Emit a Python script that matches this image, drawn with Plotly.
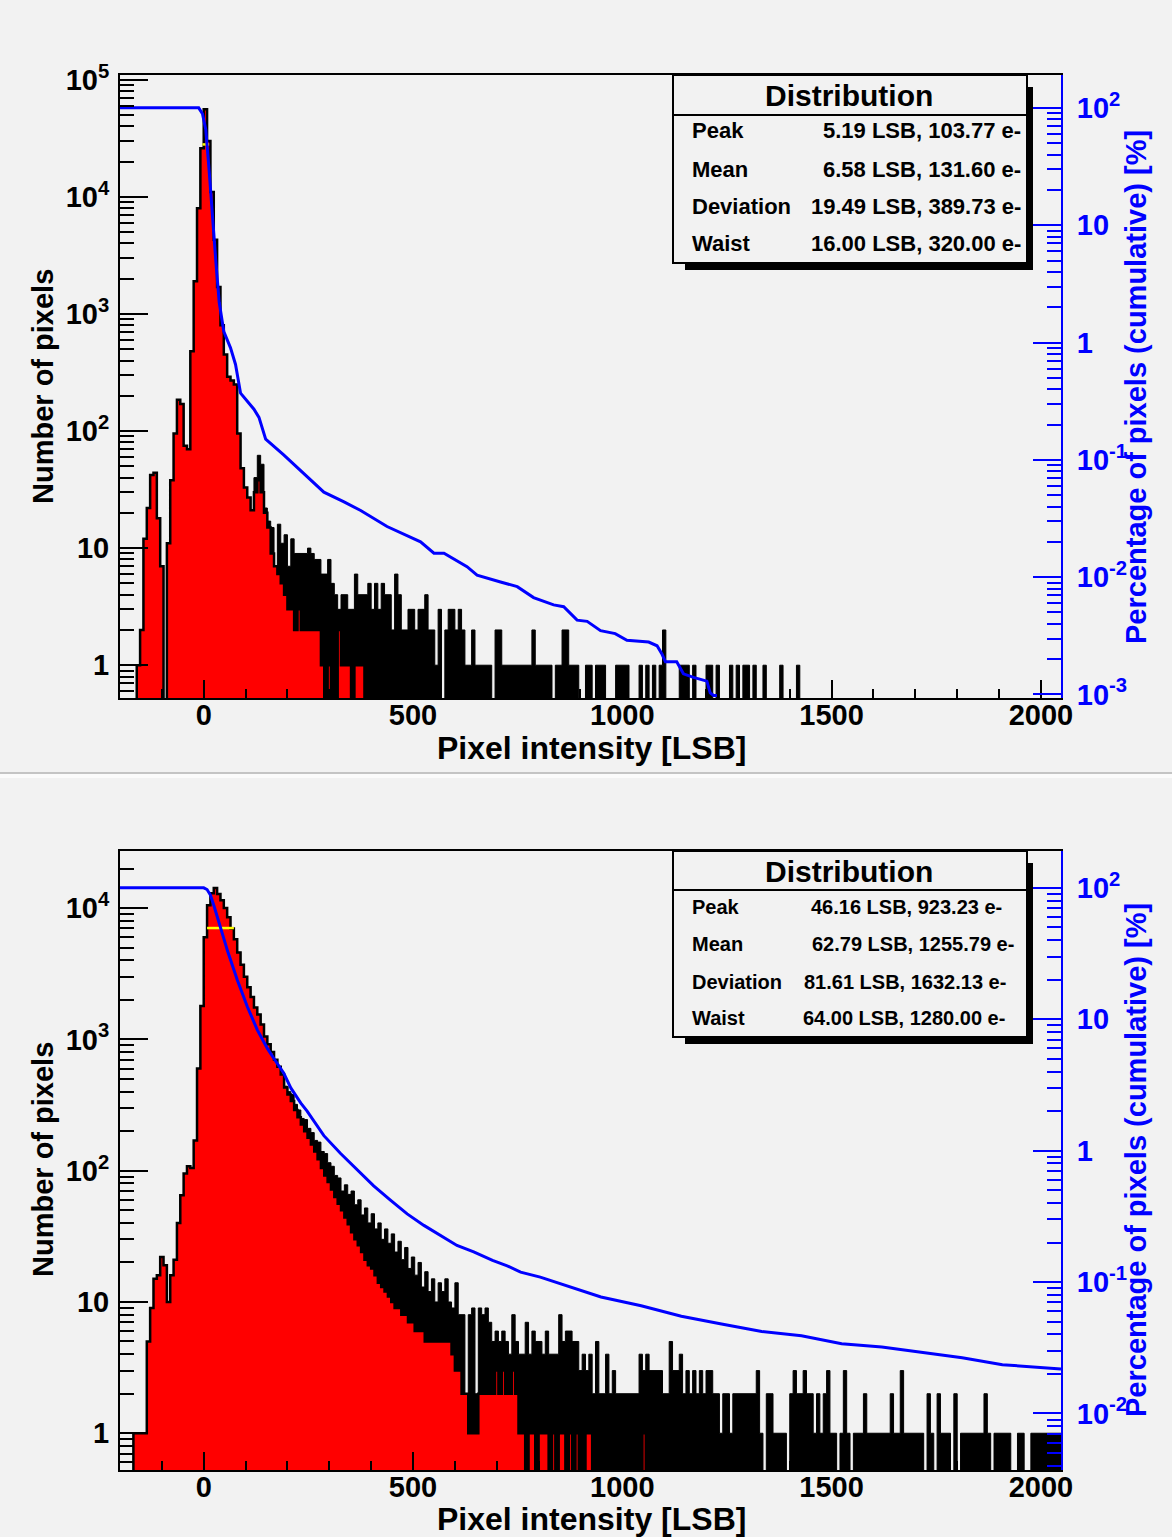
import plotly.graph_objects as go

W, H = 1172, 1537
BG = "#f2f2f2"
FONT = "Liberation Sans, Arial, Helvetica, sans-serif"

# ---------------- data ----------------
bin_start = -200          # LSB, lower edge of first bin
bin_width = 8             # LSB per bin
x_range = [-200, 2048]

# Top panel: total distribution (black) and red distribution, counts per bin
top_black = [
    0, 0, 0, 0, 0, 1, 2, 12, 22, 42,
    44, 18, 7, 0, 11, 38, 95, 185, 170, 75,
    70, 480, 1900, 8000, 26000, 56000, 30000, 11000, 4300, 1700,
    800, 450, 290, 270, 250, 95, 48, 33, 27, 21,
    40, 62, 52, 22, 17, 15, 7, 16, 11, 13,
    7, 12, 9, 9, 9, 9, 10, 9, 8, 8,
    6, 6, 8, 5, 4, 3, 4, 4, 3, 3,
    6, 4, 4, 4, 5, 3, 5, 3, 5, 4,
    4, 2, 6, 4, 2, 2, 3, 3, 2, 3,
    3, 4, 2, 2, 1, 3, 0, 2, 3, 3,
    2, 3, 2, 1, 1, 2, 1, 1, 1, 1,
    1, 0, 2, 2, 1, 1, 1, 1, 1, 1,
    1, 1, 1, 2, 1, 1, 1, 1, 1, 0,
    1, 1, 2, 2, 1, 1, 1, 0, 0, 1,
    1, 0, 1, 1, 1, 0, 0, 0, 1, 1,
    1, 1, 0, 0, 0, 1, 0, 1, 0, 1,
    0, 1, 2, 0, 0, 0, 0, 1, 1, 1,
    0, 1, 0, 0, 0, 1, 1, 0, 1, 0,
    0, 0, 1, 0, 1, 0, 1, 1, 0, 1,
    0, 0, 1, 0, 0, 0, 0, 1, 0, 0,
    0, 0, 1,
]
top_red = [
    0, 0, 0, 0, 0, 1, 2, 12, 22, 42,
    44, 18, 7, 0, 11, 38, 95, 185, 170, 75,
    70, 480, 1900, 8000, 26000, 56000, 30000, 11000, 4300, 1700,
    800, 450, 290, 270, 250, 95, 48, 33, 27, 21,
    30, 38, 30, 20, 15, 9, 7, 6, 5, 4,
    3, 3, 2, 3, 2, 2, 2, 2, 2, 2,
    1, 0, 1, 0, 0, 2, 1, 1, 1, 0,
    1, 1, 1, 0,
]

# Bottom panel
bot_black = [
    0, 0, 0, 0, 1, 1, 1, 1, 5, 9,
    15, 16, 22, 19, 10, 16, 21, 40, 65, 95,
    108, 105, 170, 600, 1800, 6000, 10500, 13000, 14200, 12800,
    11500, 10000, 8500, 7000, 5800, 4600, 3700, 3000, 2500, 2100,
    1750, 1550, 1300, 1050, 920, 800, 700, 620, 540, 440,
    400, 380, 320, 290, 250, 245, 210, 195, 170, 165,
    140, 135, 115, 108, 92, 88, 70, 78, 66, 70,
    55, 60, 46, 52, 40, 47, 36, 40, 30, 36,
    28, 33, 24, 29, 21, 26, 18, 22, 16, 20,
    13, 17, 12, 15, 10, 14, 12, 15, 10, 9,
    14, 8, 8, 2, 8, 9, 2, 9, 8, 9,
    7, 5, 6, 5, 6, 5, 4, 8, 5, 4,
    4, 7, 4, 6, 5, 5, 4, 6, 4, 4,
    4, 8, 5, 6, 6, 5, 5, 3, 4, 3,
    4, 2, 5, 2, 2, 4, 2, 3, 2, 2,
    2, 2, 2, 2, 2, 4, 3, 4, 3, 3,
    3, 3, 2, 2, 5, 3, 3, 4, 2, 3,
    2, 3, 2, 3, 2, 3, 3, 2, 2, 1,
    2, 2, 1, 2, 2, 2, 2, 2, 2, 2,
    3, 1, 0, 2, 2, 1, 1, 1, 1, 0,
    2, 3, 2, 2, 3, 2, 2, 1, 2, 1,
    2, 3, 1, 1, 0, 1, 3, 1, 0, 1,
    1, 1, 2, 1, 1, 1, 1, 1, 1, 1,
    2, 1, 1, 3, 1, 1, 1, 1, 1, 1,
    0, 2, 1, 0, 2, 1, 1, 1, 0, 2,
    0, 1, 1, 1, 1, 1, 1, 1, 2, 1,
    0, 1, 1, 1, 1, 1, 0, 0, 1, 1,
    0, 0, 1, 1, 1, 1, 1, 1, 1, 1,
    1,
]
bot_red = [
    0, 0, 0, 0, 1, 1, 1, 1, 5, 9,
    15, 16, 22, 19, 10, 16, 21, 40, 65, 95,
    108, 105, 170, 600, 1800, 6000, 10500, 13000, 14200, 12800,
    11500, 10000, 8500, 7000, 5800, 4600, 3700, 3000, 2500, 2100,
    1750, 1550, 1300, 1050, 920, 800, 700, 620, 540, 430,
    380, 340, 290, 255, 225, 200, 178, 158, 140, 122,
    105, 92, 82, 72, 63, 56, 50, 44, 39, 34,
    30, 27, 24, 21, 19, 18, 16, 14, 13, 12,
    11, 10, 9, 9, 8, 8, 7, 7, 6, 6,
    6, 5, 5, 5, 5, 5, 5, 5, 5, 4,
    3, 3, 2, 2, 1, 1, 1, 2, 2, 2,
    2, 2, 3, 2, 3, 2, 2, 3, 2, 1,
    1, 0, 1, 1, 0, 1, 1, 1, 0, 1,
    0, 1, 1, 0, 1, 0, 1, 0, 0, 1,
    1, 0, 0, 0, 0, 0, 0, 0, 0, 0,
    0, 0, 0, 0, 0, 0, 1,
]

# Cumulative percentage curves (blue, right axis)
top_cum_x = [-200, -12, -3, 5, 13, 21, 29, 37, 48, 64, 76, 88, 120, 132, 148,
             191, 239, 287, 334, 375, 438, 470, 518, 550, 574, 629, 653, 709,
             749, 788, 836, 860, 892, 916, 948, 983, 1011, 1063, 1083, 1095,
             1103, 1130, 1146, 1170, 1202, 1210, 1218, 1226]
top_cum_pct = [100, 100, 89, 65, 29, 11, 4.9, 2.2, 1.24, 0.9, 0.65, 0.37, 0.27,
               0.23, 0.15, 0.11, 0.076, 0.053, 0.044, 0.037, 0.027, 0.024,
               0.020, 0.016, 0.016, 0.0123, 0.0104, 0.0091, 0.0083, 0.0067,
               0.0058, 0.0056, 0.0043, 0.0042, 0.0035, 0.0033, 0.0029, 0.0028,
               0.0026, 0.0022, 0.0019, 0.0019, 0.0015, 0.0014, 0.0013, 0.00103,
               0.00098, 0.00098]
bot_cum_x = [-200, 0, 8, 16, 25, 41, 57, 80, 104, 128, 152, 168, 191, 208, 232,
             247, 271, 287, 327, 367, 406, 446, 486, 526, 566, 605, 645, 690,
             725, 757, 804, 853, 949, 1045, 1141, 1237, 1333, 1428, 1524, 1620,
             1716, 1812, 1908, 2048]
bot_cum_pct = [100, 100, 97, 88, 72, 49, 33, 20, 12.5, 8.3, 6.0, 5.0, 3.9, 3.0,
               2.3, 2.0, 1.56, 1.3, 0.95, 0.71, 0.54, 0.42, 0.33, 0.27, 0.225,
               0.19, 0.17, 0.146, 0.133, 0.119, 0.109, 0.097, 0.077, 0.066,
               0.055, 0.048, 0.042, 0.039, 0.034, 0.032, 0.029, 0.0266, 0.0235,
               0.0218]

# Waist (FWHM) markers
top_waist_x = [-3, 13]
top_waist_y = 28000
bot_waist_x = [8, 72]
bot_waist_y = 7050

# Stats box text
box_title = "Distribution"
stat_labels = ["Peak", "Mean", "Deviation", "Waist"]
top_stat_values = ["5.19 LSB, 103.77 e-", "6.58 LSB, 131.60 e-",
                   "19.49 LSB, 389.73 e-", "16.00 LSB, 320.00 e-"]
bot_stat_values = ["46.16 LSB, 923.23 e-", "62.79 LSB, 1255.79 e-",
                   "81.61 LSB, 1632.13 e-", "64.00 LSB, 1280.00 e-"]

# Axis ticks
x_tick_vals = [0, 500, 1000, 1500, 2000]
x_tick_text = ["0", "500", "1000", "1500", "2000"]
top_left_vals = [1, 10, 100, 1000, 10000, 100000]
top_left_text = ["1", "10", "10<sup>2</sup>", "10<sup>3</sup>", "10<sup>4</sup>", "10<sup>5</sup>"]
bot_left_vals = [1, 10, 100, 1000, 10000]
bot_left_text = ["1", "10", "10<sup>2</sup>", "10<sup>3</sup>", "10<sup>4</sup>"]
top_right_vals = [0.001, 0.01, 0.1, 1, 10, 100]
top_right_text = ["10<sup>-3</sup>", "10<sup>-2</sup>", "10<sup>-1</sup>", "1", "10", "10<sup>2</sup>"]
bot_right_vals = [0.01, 0.1, 1, 10, 100]
bot_right_text = ["10<sup>-2</sup>", "10<sup>-1</sup>", "1", "10", "10<sup>2</sup>"]

x_title = "Pixel intensity [LSB]"
y_title = "Number of pixels"
y2_title = "Percentage of pixels (cumulative) [%]"

# ---------------- helpers ----------------
FLOOR = 0.05  # drawing level for empty bins (below the visible axis range)


def hist_path(counts):
    xs = [bin_start]
    ys = [FLOOR]
    for i, c in enumerate(counts):
        v = c if c > 0 else FLOOR
        x0 = bin_start + i * bin_width
        xs += [x0, x0 + bin_width]
        ys += [v, v]
    xs.append(bin_start + len(counts) * bin_width)
    ys.append(FLOOR)
    return xs, ys


def minor_log(e_lo, e_hi):
    return [m * 10.0 ** e for e in range(e_lo, e_hi + 1) for m in range(2, 10)]


def px_x(p):
    return p / W


def px_y(p):
    return 1 - p / H


X_DOM = [px_x(120), px_x(1061)]
TOP_DOM = [px_y(698), px_y(75)]
BOT_DOM = [px_y(1470), px_y(851)]

fig = go.Figure()


def add_panel(black, red, waist_x, waist_y, cum_x, cum_pct, xa, ya, ya2):
    bx, by = hist_path(black)
    fig.add_trace(go.Scatter(x=bx, y=by, mode="lines", fill="toself",
                             fillcolor="black", line=dict(color="black", width=1),
                             xaxis=xa, yaxis=ya, hoverinfo="skip", showlegend=False))
    rx, ry = hist_path(red)
    fig.add_trace(go.Scatter(x=rx, y=ry, mode="lines", fill="toself",
                             fillcolor="#ff0000", line=dict(color="black", width=2.5),
                             xaxis=xa, yaxis=ya, hoverinfo="skip", showlegend=False))
    fig.add_trace(go.Scatter(x=waist_x, y=[waist_y, waist_y], mode="lines",
                             line=dict(color="#ffff00", width=2.5),
                             xaxis=xa, yaxis=ya, hoverinfo="skip", showlegend=False))
    fig.add_trace(go.Scatter(x=cum_x, y=cum_pct, mode="lines",
                             line=dict(color="#0000ff", width=3),
                             xaxis=xa, yaxis=ya2, hoverinfo="skip", showlegend=False))


add_panel(top_black, top_red, top_waist_x, top_waist_y, top_cum_x, top_cum_pct, "x", "y", "y2")
add_panel(bot_black, bot_red, bot_waist_x, bot_waist_y, bot_cum_x, bot_cum_pct, "x2", "y3", "y4")

tick_font = dict(family=FONT, size=29, color="black", weight="bold")
ytick_font = dict(family=FONT, size=29, color="black", weight="bold")
rtick_font = dict(family=FONT, size=29, color="#0000ff", weight="bold")


def xaxis_cfg(anchor):
    return dict(domain=X_DOM, range=x_range, anchor=anchor, showgrid=False, zeroline=False,
                automargin=False,
                showline=True, linecolor="black", linewidth=2, mirror=True,
                ticks="inside", ticklen=18, tickwidth=1.5, tickcolor="black",
                tickmode="array", tickvals=x_tick_vals, ticktext=x_tick_text,
                tickfont=tick_font, ticklabelstandoff=-10,
                minor=dict(tickmode="array", tickvals=list(range(-100, 2001, 100)),
                           ticks="inside", ticklen=9, tickwidth=1.5, tickcolor="black"))


def yleft_cfg(domain, rng, vals, text, anchor, e_lo, e_hi):
    return dict(domain=domain, type="log", range=rng, anchor=anchor, showgrid=False,
                zeroline=False, showline=True, linecolor="black", linewidth=2,
                automargin=False,
                ticks="inside", ticklen=28, tickwidth=1.5, tickcolor="black",
                tickmode="array", tickvals=vals, ticktext=text, tickfont=ytick_font,
                ticklabelstandoff=3,
                minor=dict(tickmode="array", tickvals=minor_log(e_lo, e_hi),
                           ticks="inside", ticklen=14, tickwidth=1.5, tickcolor="black"))


def yright_cfg(over, rng, vals, text, anchor, e_lo, e_hi):
    return dict(overlaying=over, side="right", type="log", range=rng, anchor=anchor,
                showgrid=False, zeroline=False, showline=True, linecolor="#0000ff",
                automargin=False,
                linewidth=2, ticks="inside", ticklen=28, tickwidth=1.5, tickcolor="#0000ff",
                tickmode="array", tickvals=vals, ticktext=text, tickfont=rtick_font,
                ticklabelstandoff=8,
                minor=dict(tickmode="array", tickvals=minor_log(e_lo, e_hi),
                           ticks="inside", ticklen=14, tickwidth=1.5, tickcolor="#0000ff"))


shapes = []
annotations = []


def add_box(y_top, y_sep, y_bot, rows_y, values, value_right, val_size):
    # shadow
    shapes.append(dict(type="rect", xref="paper", yref="paper",
                       x0=px_x(685), x1=px_x(1033), y0=px_y(y_bot + 7), y1=px_y(y_top + 12),
                       fillcolor="black", line=dict(width=0), layer="above"))
    shapes.append(dict(type="rect", xref="paper", yref="paper",
                       x0=px_x(673), x1=px_x(1027), y0=px_y(y_bot), y1=px_y(y_top),
                       fillcolor=BG, line=dict(color="black", width=2), layer="above"))
    shapes.append(dict(type="line", xref="paper", yref="paper",
                       x0=px_x(673), x1=px_x(1027), y0=px_y(y_sep), y1=px_y(y_sep),
                       line=dict(color="black", width=2), layer="above"))
    annotations.append(dict(text=box_title, xref="paper", yref="paper",
                            x=px_x(849), y=px_y((y_top + y_sep) / 2 + 1), xanchor="center",
                            yanchor="middle", showarrow=False,
                            font=dict(family=FONT, size=30, color="black", weight="bold")))
    for lab, val, yy, xr in zip(stat_labels, values, rows_y, value_right):
        annotations.append(dict(text=lab, xref="paper", yref="paper", x=px_x(690),
                                y=px_y(yy), xanchor="left", yanchor="middle", showarrow=False,
                                font=dict(family=FONT, size=val_size, color="black", weight="bold")))
        annotations.append(dict(text=val, xref="paper", yref="paper", x=px_x(xr),
                                y=px_y(yy), xanchor="right", yanchor="middle", showarrow=False,
                                font=dict(family=FONT, size=val_size, color="black", weight="bold")))


add_box(75, 115, 263, [131, 169, 206.5, 243], top_stat_values, [1023, 1023, 1023, 1023], 22)
add_box(851, 890, 1037, [907, 944, 982, 1018], bot_stat_values, [1004, 1016, 1008, 1007], 20)


def add_titles(x_title_y, y_mid):
    annotations.append(dict(text=x_title, xref="paper", yref="paper", x=px_x(591),
                            y=px_y(x_title_y), xanchor="center", yanchor="middle",
                            showarrow=False,
                            font=dict(family=FONT, size=32, color="black", weight="bold")))
    annotations.append(dict(text=y_title, xref="paper", yref="paper", x=px_x(43),
                            y=px_y(y_mid), xanchor="center", yanchor="middle",
                            textangle=-90, showarrow=False,
                            font=dict(family=FONT, size=29, color="black", weight="bold")))
    annotations.append(dict(text=y2_title, xref="paper", yref="paper", x=px_x(1136),
                            y=px_y(y_mid), xanchor="center", yanchor="middle",
                            textangle=-90, showarrow=False,
                            font=dict(family=FONT, size=29, color="#0000ff", weight="bold")))


add_titles(748, 387)
add_titles(1519, 1160)

# canvas separator
shapes.append(dict(type="rect", xref="paper", yref="paper", x0=0, x1=1,
                   y0=px_y(778), y1=px_y(774), fillcolor="#fbfbfb", line=dict(width=0)))
shapes.append(dict(type="line", xref="paper", yref="paper", x0=0, x1=1,
                   y0=px_y(773), y1=px_y(773), line=dict(color="#c4c4c4", width=2)))

fig.update_layout(
    width=W, height=H, autosize=False,
    margin=dict(l=0, r=0, t=0, b=0, pad=0, autoexpand=False),
    paper_bgcolor=BG, plot_bgcolor=BG,
    showlegend=False,
    xaxis=xaxis_cfg("y"),
    yaxis=yleft_cfg(TOP_DOM, [-0.28, 5.04], top_left_vals, top_left_text, "x", -1, 4),
    yaxis2=yright_cfg("y", [-3.03, 2.28], top_right_vals, top_right_text, "x", -3, 1),
    xaxis2=xaxis_cfg("y3"),
    yaxis3=yleft_cfg(BOT_DOM, [-0.28, 4.435], bot_left_vals, bot_left_text, "x2", -1, 4),
    yaxis4=yright_cfg("y3", [-2.43, 2.28], bot_right_vals, bot_right_text, "x2", -3, 1),
    shapes=shapes,
    annotations=annotations,
)

fig.write_html(
    "out.html",
    config={"displayModeBar": False, "responsive": False},
    post_script="document.body.style.margin='0px';document.body.style.overflow='hidden';"
                "document.body.style.background='" + BG + "';",
)
